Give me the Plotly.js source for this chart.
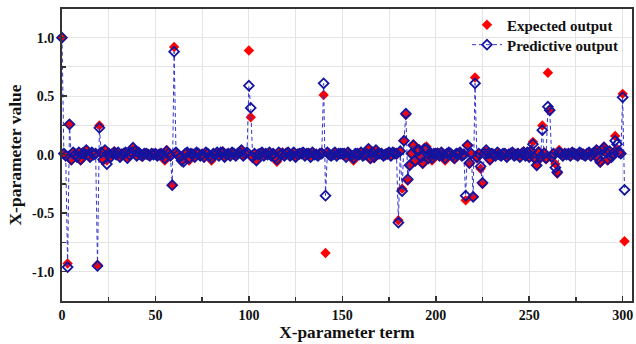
<!DOCTYPE html>
<html>
<head>
<meta charset="utf-8">
<script src="https://cdn.plot.ly/plotly-3.0.1.min.js"></script>
<style>html,body{margin:0;padding:0;background:#fff;}#chart{width:636px;height:344px;}</style>
</head>
<body>
<div id="chart"></div>
<script>
// Expected output, X-parameter terms 0..301
var expected = [
  1.00, 0.01, -0.01, -0.93, 0.26, -0.05, 0.02, 0.01, -0.02, 0.01,
  -0.05, 0.02, 0.00, 0.04, 0.01, -0.02, 0.01, 0.00, 0.01, -0.94,
  0.25, 0.01, -0.05, 0.04, -0.05, 0.02, -0.01, 0.01, 0.03, 0.00,
  0.01, -0.02, 0.01, 0.00, 0.02, -0.03, 0.01, 0.02, 0.05, 0.04,
  -0.01, 0.01, 0.00, -0.02, 0.01, 0.00, 0.01, -0.01, 0.00, 0.01,
  0.00, -0.01, 0.01, 0.00, 0.00, -0.05, 0.04, 0.01, -0.01, -0.26,
  0.92, 0.01, 0.00, -0.02, -0.05, -0.04, 0.01, 0.02, -0.05, 0.00,
  0.01, -0.02, 0.02, 0.00, -0.01, 0.01, -0.02, 0.02, 0.00, -0.01,
  -0.05, 0.01, 0.00, 0.02, -0.01, 0.01, 0.03, -0.02, 0.00, 0.01,
  -0.01, 0.02, 0.00, -0.01, 0.01, 0.02, 0.04, -0.01, 0.01, 0.02,
  0.89, 0.32, -0.03, 0.01, -0.05, 0.01, 0.00, 0.02, -0.01, 0.01,
  0.00, 0.02, -0.01, 0.01, -0.02, -0.06, 0.01, 0.00, 0.02, -0.01,
  0.02, 0.01, -0.01, 0.00, 0.01, -0.02, 0.01, 0.00, 0.01, 0.02,
  -0.01, 0.00, 0.01, -0.01, 0.02, 0.00, 0.01, -0.01, 0.00, 0.02,
  0.51, -0.84, 0.01, 0.00, -0.01, 0.01, 0.02, -0.01, 0.00, 0.01,
  0.00, 0.01, -0.01, 0.02, 0.00, -0.02, -0.05, 0.01, 0.00, 0.01,
  0.02, -0.01, 0.01, 0.00, 0.05, -0.04, 0.01, -0.03, 0.04, 0.00,
  0.01, 0.00, -0.01, 0.01, 0.00, 0.02, -0.01, 0.01, 0.02, 0.00,
  -0.56, 0.03, -0.29, 0.12, 0.34, -0.22, -0.09, 0.01, 0.09, -0.06,
  0.04, 0.05, -0.03, -0.08, 0.06, 0.07, -0.04, 0.02, -0.05, 0.01,
  0.00, 0.02, -0.01, 0.01, 0.00, -0.05, 0.01, 0.02, 0.00, -0.01,
  -0.04, 0.01, 0.00, 0.02, -0.01, 0.01, -0.39, 0.08, -0.08, 0.00,
  -0.36, 0.66, -0.03, 0.01, -0.12, -0.25, 0.02, 0.03, 0.00, -0.05,
  0.01, -0.01, 0.00, 0.02, 0.01, -0.01, 0.00, 0.01, -0.02, 0.01,
  0.00, 0.02, -0.01, 0.01, 0.00, -0.02, 0.01, 0.03, -0.01, 0.02,
  -0.02, 0.04, 0.11, -0.04, -0.09, 0.03, -0.03, 0.25, 0.02, -0.04,
  0.70, 0.38, -0.02, 0.01, -0.08, -0.16, 0.04, 0.01, -0.01, 0.00,
  0.01, 0.00, -0.01, 0.02, 0.00, 0.01, -0.01, 0.02, 0.00, 0.01,
  -0.01, 0.00, 0.02, -0.01, 0.01, 0.03, 0.04, -0.04, -0.07, 0.05,
  0.07, 0.02, -0.05, 0.03, -0.02, 0.01, 0.16, 0.05, 0.02, 0.01,
  0.52, -0.74
];
// Predictive output, X-parameter terms 0..301
var predictive = [
  1.00, 0.01, -0.01, -0.96, 0.26, -0.04, 0.02, 0.00, -0.02, 0.02,
  -0.04, 0.01, 0.01, 0.04, 0.00, -0.02, 0.02, 0.00, 0.01, -0.95,
  0.23, 0.02, -0.04, 0.04, -0.08, 0.01, -0.02, 0.01, 0.02, 0.00,
  0.02, -0.02, 0.00, 0.01, 0.02, -0.03, 0.00, 0.02, 0.06, 0.03,
  -0.01, 0.02, 0.00, -0.01, 0.01, 0.01, 0.00, -0.01, 0.01, 0.00,
  0.01, -0.01, 0.00, 0.01, 0.00, -0.03, 0.03, 0.01, -0.01, -0.26,
  0.88, 0.02, 0.00, -0.02, -0.05, -0.06, 0.01, 0.02, -0.03, 0.01,
  0.00, -0.02, 0.02, 0.01, -0.01, 0.00, -0.02, 0.02, 0.01, -0.01,
  -0.03, 0.01, 0.00, 0.02, -0.01, 0.02, 0.02, -0.02, 0.00, 0.01,
  -0.01, 0.02, 0.01, -0.01, 0.01, 0.02, 0.04, -0.01, 0.01, 0.02,
  0.59, 0.40, -0.02, 0.01, -0.05, 0.00, 0.01, 0.02, -0.01, 0.01,
  0.00, 0.02, -0.01, 0.01, -0.02, -0.04, 0.02, 0.00, 0.01, -0.01,
  0.01, 0.02, -0.01, 0.00, 0.02, -0.02, 0.00, 0.01, 0.01, 0.02,
  -0.01, 0.01, 0.01, -0.02, 0.02, 0.00, 0.00, -0.01, 0.01, 0.01,
  0.61, -0.35, 0.02, 0.00, -0.01, 0.00, 0.02, -0.01, 0.01, 0.01,
  0.01, 0.01, -0.02, 0.02, 0.00, -0.01, -0.03, 0.01, 0.01, 0.00,
  0.02, -0.01, 0.00, 0.01, 0.05, -0.03, 0.02, -0.02, 0.04, 0.01,
  0.01, 0.01, -0.01, 0.00, 0.01, 0.02, -0.01, 0.02, 0.01, 0.01,
  -0.58, 0.03, -0.31, 0.12, 0.35, -0.21, -0.09, 0.01, 0.08, -0.05,
  0.04, 0.04, -0.02, -0.07, 0.05, 0.05, -0.03, 0.01, -0.03, 0.01,
  0.01, 0.01, -0.01, 0.02, 0.00, -0.03, 0.01, 0.02, 0.01, -0.01,
  -0.03, 0.01, 0.01, 0.02, -0.01, 0.00, -0.35, 0.08, -0.07, 0.01,
  -0.36, 0.61, -0.02, 0.01, -0.10, -0.24, 0.01, 0.04, 0.01, -0.04,
  0.01, 0.00, -0.01, 0.02, 0.00, -0.01, 0.01, 0.01, -0.02, 0.00,
  0.01, 0.02, -0.01, 0.00, 0.01, -0.02, 0.01, 0.02, -0.01, 0.02,
  -0.02, 0.03, 0.09, -0.03, -0.09, 0.02, -0.02, 0.21, 0.01, -0.03,
  0.41, 0.38, -0.02, 0.01, -0.11, -0.15, 0.02, 0.01, -0.01, 0.01,
  0.00, 0.01, -0.01, 0.02, 0.01, 0.00, -0.01, 0.02, 0.01, 0.00,
  -0.01, 0.01, 0.02, -0.01, 0.01, 0.02, 0.04, -0.03, -0.06, 0.04,
  0.06, 0.02, -0.04, 0.03, -0.02, 0.01, 0.12, 0.09, 0.02, 0.01,
  0.49, -0.30
];
var yTickVals = [-1, -0.5, 0, 0.5, 1];
var yTickText = ["-1.0", "-0.5", "0.0", "0.5", "1.0"];
var xTickVals = [0, 50, 100, 150, 200, 250, 300];

var terms = [];
for (var i = 0; i < expected.length; i++) terms.push(i);

var FONT = "Liberation Serif, Times New Roman, serif";
var traces = [
  {
    x: terms, y: expected, type: "scatter", mode: "markers", cliponaxis: false,
    name: "Expected output", legend: "legend",
    marker: {symbol: "diamond", size: 8, color: "#ff0000", line: {width: 0}}
  },
  {
    x: terms, y: predictive, type: "scatter", mode: "lines+markers", cliponaxis: false,
    name: "Predictive output", legend: "legend2",
    line: {color: "#3434d0", width: 1, dash: "4px,3px"},
    marker: {symbol: "diamond-open", size: 7.5, color: "#14149e", line: {width: 1.8, color: "#14149e"}}
  }
];
var legFont = {family: FONT, size: 15, color: "#111", weight: "bold"};
var layout = {
  width: 636, height: 344,
  margin: {l: 62, r: 4, t: 9, b: 43},
  paper_bgcolor: "#fff", plot_bgcolor: "#fff",
  font: {family: FONT, color: "#111", size: 14},
  showlegend: true,
  legend: {x: 0.7105, y: 0.945, xanchor: "left", yanchor: "middle", bgcolor: "rgba(0,0,0,0)", borderwidth: 0, font: legFont},
  legend2: {x: 0.7105, y: 0.877, xanchor: "left", yanchor: "middle", bgcolor: "rgba(0,0,0,0)", borderwidth: 0, font: legFont},
  xaxis: {
    range: [0, 305], showline: true, linecolor: "#333", linewidth: 2, mirror: true,
    ticks: "inside", ticklen: 5, tickwidth: 1.5, tickcolor: "#333",
    tickvals: xTickVals, zeroline: false,
    showgrid: true, gridcolor: "#e4e4e4", gridwidth: 1,
    minor: {dtick: 25, tick0: 0, ticks: "inside", ticklen: 4, tickcolor: "#333", showgrid: true, gridcolor: "#e4e4e4"},
    tickfont: {family: FONT, size: 14, color: "#111", weight: "bold"},
    title: {text: "X-parameter term", font: {family: FONT, size: 17.3, color: "#111", weight: "bold"}, standoff: 3}
  },
  yaxis: {
    range: [-1.25, 1.245], showline: true, linecolor: "#333", linewidth: 2, mirror: true,
    ticks: "inside", ticklen: 5, tickwidth: 1.5, tickcolor: "#333",
    tickvals: yTickVals, ticktext: yTickText, zeroline: false, ticklabelstandoff: 3,
    showgrid: true, gridcolor: "#e4e4e4", gridwidth: 1,
    minor: {dtick: 0.25, tick0: 0, ticks: "inside", ticklen: 4, tickcolor: "#333", showgrid: true, gridcolor: "#e4e4e4"},
    tickfont: {family: FONT, size: 14, color: "#111", weight: "bold"},
    title: {text: "X-parameter value", font: {family: FONT, size: 17.5, color: "#111", weight: "bold"}, standoff: 6}
  }
};
Plotly.newPlot("chart", traces, layout, {displayModeBar: false, staticPlot: true});
</script>
</body>
</html>
